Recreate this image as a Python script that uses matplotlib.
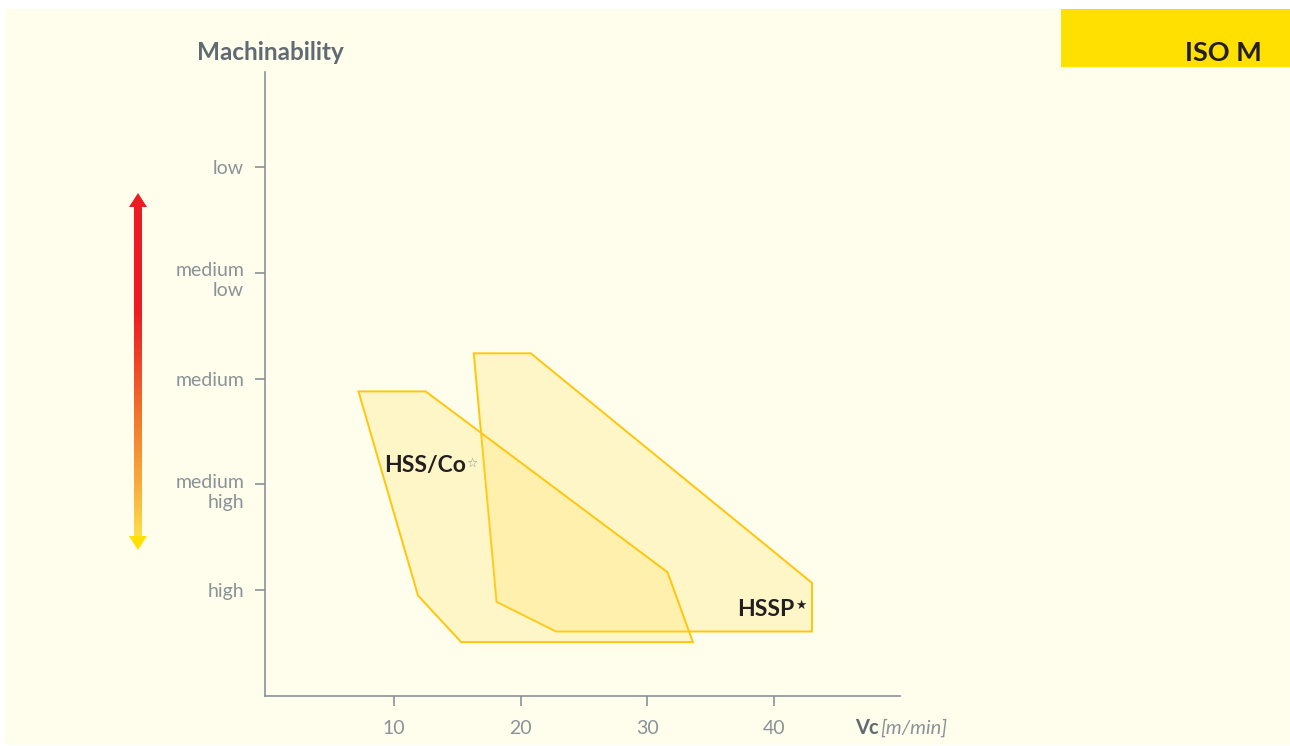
import numpy as np
import matplotlib.pyplot as plt
from matplotlib.patches import Polygon, Rectangle
from matplotlib.colors import LinearSegmentedColormap
from matplotlib.transforms import ScaledTranslation

plt.rcParams['font.family'] = ['Lato', 'DejaVu Sans']

# Schnittgeschwindigkeit Vc [m/min] gegen Zerspanbarkeit (1 = high ... 5 = low)
level_values = [1, 2, 3, 4, 5]
level_labels = ['high', 'medium\nhigh', 'medium', 'medium\nlow', 'low']
vc_ticks = [10, 20, 30, 40]

# Einsatzbereiche der Werkzeugwerkstoffe (Vc, Zerspanbarkeit)
hssco_vc = [7.2, 12.5, 31.6, 33.6, 15.3, 11.9]
hssco_mach = [2.88, 2.88, 1.17, 0.51, 0.51, 0.95]
hssp_vc = [16.3, 20.8, 43.0, 43.0, 22.8, 18.1]
hssp_mach = [3.24, 3.24, 1.07, 0.61, 0.61, 0.89]

W, H = 1290, 746
bg = '#FFFDEB'
grey = '#8A9399'
dark = '#231F20'

fig = plt.figure(figsize=(W / 100, H / 100), dpi=100)
fig.patch.set_facecolor('white')
fig.patches.append(Rectangle((5 / W, 1 / H), 1 - 5 / W, 736 / H, transform=fig.transFigure,
                             facecolor=bg, edgecolor='none', zorder=-10))
# gelber Kasten oben rechts
fig.patches.append(Rectangle((1061 / W, (746 - 67) / H), 229 / W, 58 / H, transform=fig.transFigure,
                             facecolor='#FFE000', edgecolor='none', zorder=-5))
fig.text(1262 / W, (746 - 53) / H, 'ISO M', ha='right', va='center', fontsize=19.5,
         fontweight='bold', color=dark)

ax = fig.add_axes([265 / W, 50 / H, 635 / W, 624 / H])
ax.set_facecolor('none')
ax.set_xlim(-0.18, 49.95)
ax.set_ylim(0, 5.9)
for s in ['top', 'right']:
    ax.spines[s].set_visible(False)
for s in ['left', 'bottom']:
    ax.spines[s].set_color(grey)
    ax.spines[s].set_linewidth(1.2)

ax.set_xticks(vc_ticks)
ax.set_xticklabels([str(v) for v in vc_ticks])
ax.set_yticks(level_values)
ax.set_yticklabels(level_labels, multialignment='right')
ax.tick_params(axis='both', colors=grey, length=7, width=1.2, labelsize=14, pad=8,
               labelcolor=grey)
ax.tick_params(axis='x', pad=10)
for lab in ax.get_yticklabels():
    if '\n' in lab.get_text():
        lab.set_transform(lab.get_transform() + ScaledTranslation(0, -5 / 100, fig.dpi_scale_trans))

# Flächen: HSSP zuerst, HSS/Co darüber
for vc, mach in [(hssp_vc, hssp_mach), (hssco_vc, hssco_mach)]:
    ax.add_patch(Polygon(np.column_stack([vc, mach]), closed=True,
                         facecolor='#FFDE50', alpha=0.22, edgecolor='none'))
    ax.add_patch(Polygon(np.column_stack([vc, mach]), closed=True,
                         facecolor='none', edgecolor='#FFC60B', linewidth=1.4))

t1 = ax.text(9.2, 2.18, 'HSS/Co', ha='left', va='center', fontsize=16.5, fontweight='bold', color=dark)
ax.annotate('\u2606', xy=(1, 1), xycoords=t1, xytext=(0.5, -1), textcoords='offset points',
            ha='left', va='top', fontsize=9, color=grey, family='DejaVu Sans')
t2 = ax.text(37.1, 0.82, 'HSSP', ha='left', va='center', fontsize=16.5, fontweight='bold', color=dark)
ax.annotate('\u2605', xy=(1, 1), xycoords=t2, xytext=(0.5, 0), textcoords='offset points',
            ha='left', va='top', fontsize=9, color=dark, family='DejaVu Sans')

# Achsentitel
fig.text(197 / W, (746 - 52) / H, 'Machinability', ha='left', va='center', fontsize=17.5,
         fontweight='bold', color='#5F6B73')
fig.text(855 / W, (746 - 728) / H, 'Vc', ha='left', va='center', fontsize=14.5,
         fontweight='bold', color='#5F6B73')
fig.text(880 / W, (746 - 728) / H, '[m/min]', ha='left', va='center', fontsize=14.5,
         style='italic', color=grey)

# Farbverlaufspfeil rot -> gelb
ax_arr = fig.add_axes([126 / W, (746 - 552) / H, 24 / W, 360 / H])
ax_arr.set_xlim(0, 24)
ax_arr.set_ylim(552, 192)
ax_arr.axis('off')
cmap = LinearSegmentedColormap.from_list('arrow', [(0, '#ED1C24'), (0.32, '#ED1C24'),
                                                   (0.45, '#EE3E27'), (0.65, '#F37A2C'),
                                                   (0.85, '#F8AE3F'), (1.0, '#FFDD48')])
grad = np.linspace(0, 1, 300).reshape(-1, 1)
ax_arr.imshow(grad, cmap=cmap, aspect='auto', extent=(8, 16, 537, 206), interpolation='bilinear')
ax_arr.add_patch(Polygon([(3, 207), (21, 207), (12, 193)], closed=True, facecolor='#ED1C24', edgecolor='none'))
ax_arr.add_patch(Polygon([(3, 536), (21, 536), (12, 550)], closed=True, facecolor='#FFE000', edgecolor='none'))

fig.savefig('out.png', dpi=100, facecolor=fig.get_facecolor())
